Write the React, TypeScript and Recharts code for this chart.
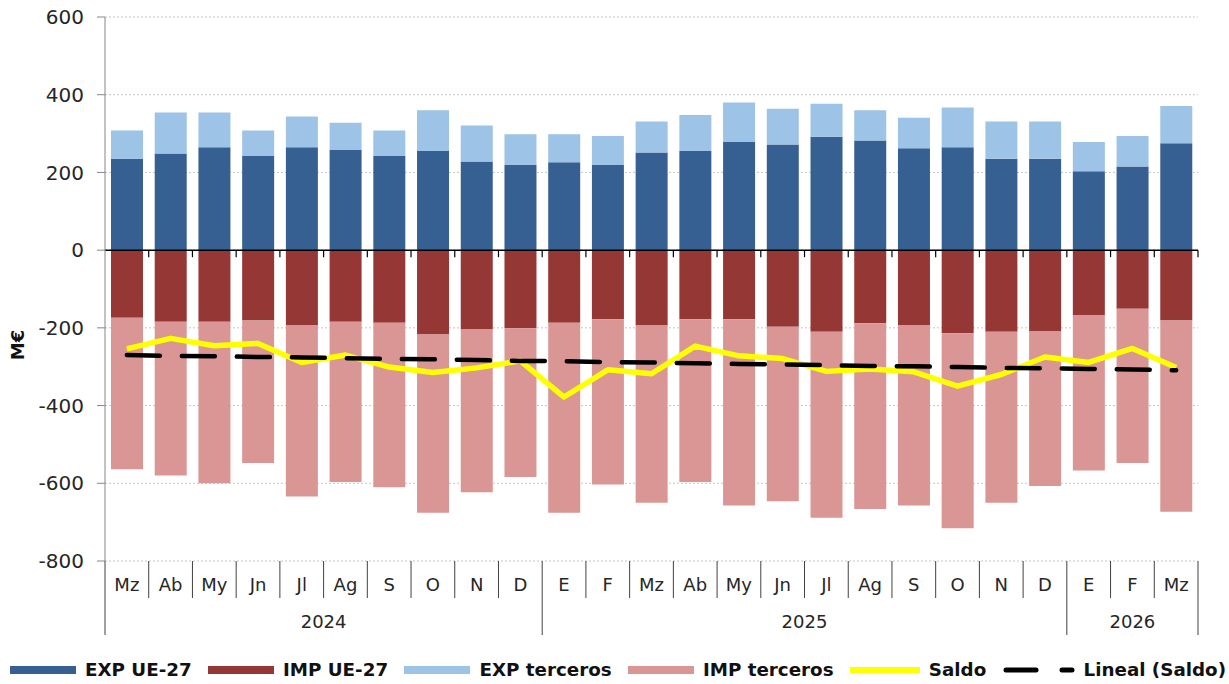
import { Bar, CartesianGrid, ComposedChart, Line, ReferenceLine, XAxis, YAxis } from "recharts";

const months = ["Mz", "Ab", "My", "Jn", "Jl", "Ag", "S", "O", "N", "D", "E", "F", "Mz", "Ab", "My", "Jn", "Jl", "Ag", "S", "O", "N", "D", "E", "F", "Mz"];
const yearGroups = [
  { label: "2024", count: 10 },
  { label: "2025", count: 12 },
  { label: "2026", count: 3 },
];

const expUE = [235, 249, 265, 242, 265, 258, 242, 255, 228, 219, 226, 219, 251, 255, 278, 272, 292, 282, 262, 265, 235, 235, 203, 215, 275];
const expTerceros = [73, 105, 89, 66, 79, 70, 66, 105, 93, 79, 72, 75, 80, 93, 102, 92, 85, 78, 79, 102, 96, 96, 75, 79, 96];
const impUE = [-174, -184, -184, -181, -194, -184, -187, -217, -204, -201, -187, -178, -194, -178, -178, -197, -210, -188, -194, -214, -210, -208, -167, -151, -181];
const impTerceros = [-390, -396, -416, -367, -440, -413, -423, -459, -419, -383, -489, -425, -456, -419, -479, -449, -479, -478, -463, -502, -440, -399, -400, -397, -492];
const saldo = [-254, -227, -246, -240, -289, -270, -301, -315, -303, -285, -378, -308, -318, -247, -272, -279, -312, -306, -313, -350, -320, -275, -289, -253, -302];
const lineal = [-270, -272, -273, -275, -276, -278, -280, -281, -283, -285, -286, -288, -289, -291, -293, -294, -296, -298, -299, -301, -303, -304, -306, -307, -309];

const yTicks = [-800, -600, -400, -200, 0, 200, 400, 600];

const C = {
  expUE: "#366092",
  impUE: "#953735",
  expT: "#9DC3E6",
  impT: "#DA9694",
  saldo: "#FFFF00",
  lineal: "#000000",
};

const FONT = "'DejaVu Sans', Verdana, sans-serif";

const data = months.map((m, i) => ({
  month: m,
  expUE: expUE[i],
  impUE: impUE[i],
  expT: expTerceros[i],
  impT: impTerceros[i],
  saldo: saldo[i],
  lineal: lineal[i],
}));

// index where each year starts
const yearStart: Record<number, { label: string; count: number }> = {};
{
  let acc = 0;
  yearGroups.forEach((g) => {
    yearStart[acc] = g;
    acc += g.count;
  });
}

function MonthTick(props: any) {
  const { x, y, payload, index, width, visibleTicksCount } = props;
  const half = payload?.offset || width / visibleTicksCount / 2;
  const left = x - half;
  const group = yearStart[index];
  const isLast = index === months.length - 1;
  return (
    <g>
      <line x1={left} y1={y} x2={left} y2={y + (group ? 74 : 37)} stroke="#404040" strokeWidth={1} />
      {isLast && <line x1={x + half} y1={y} x2={x + half} y2={y + 74} stroke="#404040" strokeWidth={1} />}
      <text x={x} y={y + 30} textAnchor="middle" fontSize={18} fill="#262626" fontFamily={FONT}>
        {payload.value}
      </text>
      {group && (
        <text x={left + group.count * half} y={y + 67} textAnchor="middle" fontSize={18} fill="#262626" fontFamily={FONT}>
          {group.label}
        </text>
      )}
    </g>
  );
}

function ZeroAxis(p: any) {
  const n = months.length;
  const step = (p.x2 - p.x1) / n;
  return (
    <g>
      <line x1={p.x1} y1={p.y1} x2={p.x2} y2={p.y2} stroke="#000" strokeWidth={1.5} />
      {months.map((_, i) => (
        <line key={i} x1={p.x1 + step * (i + 1)} y1={p.y1} x2={p.x1 + step * (i + 1)} y2={p.y1 + 7} stroke="#000" strokeWidth={1.2} />
      ))}
    </g>
  );
}

function LegendItem({ swatch, label }: { swatch: any; label: string }) {
  return (
    <div style={{ display: "flex", alignItems: "center" }}>
      {swatch}
      <span style={{ marginLeft: 9, fontWeight: "bold", fontSize: 18.3, color: "#111", whiteSpace: "nowrap" }}>{label}</span>
    </div>
  );
}

const rect = (color: string) => <div style={{ width: 66, height: 8, background: color }} />;

export default function App() {
  return (
    <div style={{ position: "absolute", left: 0, top: 0, width: 1229, height: 684, background: "#fff", fontFamily: FONT }}>
      <ComposedChart
        width={1229}
        height={684}
        data={data}
        stackOffset="sign"
        margin={{ top: 17, right: 31, left: 25, bottom: 43 }}
      >
        <CartesianGrid vertical={false} stroke="#c6c6c6" strokeDasharray="2 2" />
        <XAxis
          dataKey="month"
          interval={0}
          axisLine={false}
          tickLine={false}
          tickSize={0}
          tickMargin={0}
          height={80}
          tick={<MonthTick />}
        />
        <YAxis
          type="number"
          domain={[-800, 600]}
          ticks={yTicks}
          width={80}
          stroke="#868686"
          tickSize={8}
          tickMargin={13}
          tick={{ fontSize: 20, fill: "#262626", fontFamily: FONT }}
          label={{
            content: () => (
              <text
                x={17}
                y={345}
                transform="rotate(-90 17 345)"
                textAnchor="middle"
                dominantBaseline="central"
                fontWeight="bold"
                fontSize={18}
                fill="#111"
                fontFamily={FONT}
              >
                M€
              </text>
            ),
          }}
        />
        <Bar dataKey="expUE" stackId="a" fill={C.expUE} barSize={32} isAnimationActive={false} />
        <Bar dataKey="impUE" stackId="a" fill={C.impUE} barSize={32} isAnimationActive={false} />
        <Bar dataKey="expT" stackId="a" fill={C.expT} barSize={32} isAnimationActive={false} />
        <Bar dataKey="impT" stackId="a" fill={C.impT} barSize={32} isAnimationActive={false} />
        <ReferenceLine y={0} shape={<ZeroAxis />} />
        <Line
          type="linear"
          dataKey="saldo"
          stroke={C.saldo}
          strokeWidth={5.5}
          strokeLinejoin="round"
          dot={false}
          activeDot={false}
          isAnimationActive={false}
        />
        <Line
          type="linear"
          dataKey="lineal"
          stroke={C.lineal}
          strokeWidth={4.5}
          strokeDasharray="33 22"
          strokeLinecap="round"
          dot={false}
          activeDot={false}
          isAnimationActive={false}
        />
      </ComposedChart>
      <div
        style={{
          position: "absolute",
          left: 10,
          top: 657,
          width: 1216,
          height: 25,
          display: "flex",
          justifyContent: "space-between",
          alignItems: "center",
        }}
      >
        <LegendItem swatch={rect(C.expUE)} label="EXP UE-27" />
        <LegendItem swatch={rect(C.impUE)} label="IMP UE-27" />
        <LegendItem swatch={rect(C.expT)} label="EXP terceros" />
        <LegendItem swatch={rect(C.impT)} label="IMP terceros" />
        <LegendItem swatch={<div style={{ width: 70, height: 6, background: C.saldo }} />} label="Saldo" />
        <LegendItem
          swatch={
            <svg width={72} height={8}>
              <line x1={3} y1={4} x2={33} y2={4} stroke="#000" strokeWidth={5} strokeLinecap="round" />
              <line x1={59} y1={4} x2={69} y2={4} stroke="#000" strokeWidth={5} strokeLinecap="round" />
            </svg>
          }
          label="Lineal (Saldo)"
        />
      </div>
    </div>
  );
}
